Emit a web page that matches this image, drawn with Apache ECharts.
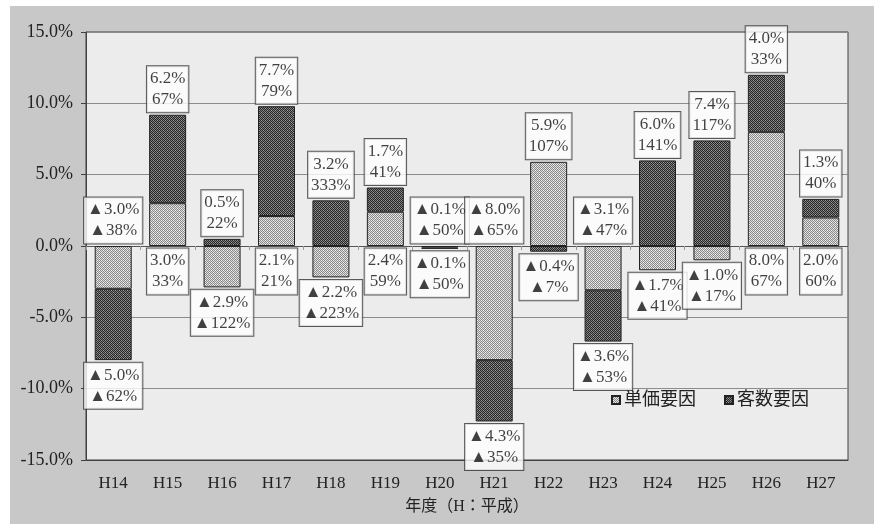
<!DOCTYPE html>
<html>
<head>
<meta charset="utf-8">
<script src="https://cdn.jsdelivr.net/npm/echarts@6/dist/echarts.min.js"></script>
<style>
  html, body { margin: 0; padding: 0; background: #ffffff; }
  #bg { position: absolute; left: 10px; top: 6px; width: 864px; height: 518px; background: #c8c8c8; }
  #chart { position: absolute; left: 0; top: 0; width: 874px; height: 524px; }
</style>
</head>
<body>
<div id="bg"></div>
<div id="chart"></div>
<script>
// ---- data ----
const categories = ['H14','H15','H16','H17','H18','H19','H20','H21','H22','H23','H24','H25','H26','H27'];
const unitFactor     = [-3.0, 3.0, -2.9, 2.1, -2.2, 2.4, -0.1, -8.0, 5.9, -3.1, -1.7, -1.0, 8.0, 2.0];
const customerFactor = [-5.0, 6.2,  0.5, 7.7,  3.2, 1.7, -0.1, -4.3, -0.4, -3.6, 6.0, 7.4, 4.0, 1.3];
const unitShare      = [-38, 33, -122, 21, -223, 59, -50, -65, 107, -47, -41, -17, 67, 60];
const customerShare  = [-62, 67,   22, 79,  333, 41, -50, -35,  -7, -53, 141, 117, 33, 40];
const seriesNames = ['単価要因', '客数要因'];
const axisTitle = '年度（H：平成）';
const yMin = -15, yMax = 15, yStep = 5;

// ---- helpers ----
function makePattern(base, dot, extra) {
  const c = document.createElement('canvas');
  c.width = 4; c.height = 4;
  const g = c.getContext('2d');
  g.fillStyle = base; g.fillRect(0, 0, 4, 4);
  g.fillStyle = dot;
  for (let y = 0; y < 4; y++) for (let x = 0; x < 4; x++) {
    if ((x + y) % 2 === 0) g.fillRect(x, y, 1, 1);
  }
  g.fillStyle = extra;
  g.fillRect(1, 0, 1, 1); g.fillRect(3, 2, 1, 1);
  return { image: c, repeat: 'repeat' };
}
const lightPat = makePattern('#dcdcdc', '#8a8a8a', '#f4f4f4');
const darkPat  = makePattern('#7c7c7c', '#262626', '#a0a0a0');

const fmtVal = v => (v < 0 ? '▲' : '') + Math.abs(v).toFixed(1) + '%';
const fmtShare = s => (s < 0 ? '▲' : '') + Math.abs(s) + '%';

const upperData = [], lowerData = [], upperText = [], lowerText = [];
categories.forEach((cat, i) => {
  const u = unitFactor[i], c = customerFactor[i];
  const pos = (u > 0 ? u : 0) + (c > 0 ? c : 0);
  const neg = (u < 0 ? u : 0) + (c < 0 ? c : 0);
  const unitTxt = fmtVal(u) + '\n' + fmtShare(unitShare[i]);
  const custTxt = fmtVal(c) + '\n' + fmtShare(customerShare[i]);
  const upperIsCustomer = c > 0;
  upperText.push(upperIsCustomer ? custTxt : unitTxt);
  lowerText.push(upperIsCustomer ? unitTxt : custTxt);
  upperData.push([cat, pos]);
  lowerData.push([cat, neg]);
});

const FONT = '"Liberation Serif", "Noto Sans CJK JP", serif';
const boxLabel = {
  show: true,
  distance: 2,
  fontFamily: FONT,
  fontSize: 17,
  lineHeight: 21,
  color: '#111',
  backgroundColor: '#ffffff',
  borderColor: '#333',
  borderWidth: 1,
  padding: [2, 3, 2, 3],
  align: 'center'
};

const chart = echarts.init(document.getElementById('chart'), null, { renderer: 'canvas' });
chart.setOption({
  animation: false,
  grid: {
    left: 86, top: 32, right: 26, bottom: 64,
    show: true, backgroundColor: '#ececec', borderColor: '#404040', borderWidth: 1
  },
  legend: {
    data: seriesNames,
    left: 606, top: 386,
    itemWidth: 8, itemHeight: 8, itemGap: 28,
    icon: 'rect',
    textStyle: { fontFamily: FONT, fontSize: 18, color: '#222', padding: [0, 0, 0, -1] }
  },
  xAxis: [{
    type: 'category', data: categories, position: 'bottom',
    axisLine: { onZero: false, lineStyle: { color: '#404040' } },
    axisTick: { show: false },
    axisLabel: { fontFamily: FONT, fontSize: 17, color: '#222', margin: 15 },
    name: axisTitle, nameLocation: 'middle', nameGap: 39,
    nameTextStyle: { fontFamily: FONT, fontSize: 16, color: '#222' }
  }, {
    type: 'category', data: categories, position: 'bottom',
    axisLine: { onZero: true, lineStyle: { color: '#555' } },
    axisTick: { show: true, length: 4, lineStyle: { color: '#999' } },
    axisLabel: { show: false }
  }],
  yAxis: {
    type: 'value', min: yMin, max: yMax, interval: yStep,
    axisLine: { show: true, lineStyle: { color: '#404040' } },
    axisTick: { show: true, length: 5, lineStyle: { color: '#404040' } },
    splitLine: { lineStyle: { color: '#8c8c8c' } },
    axisLabel: {
      fontFamily: FONT, fontSize: 18, color: '#222', margin: 13,
      formatter: v => v.toFixed(1) + '%'
    }
  },
  series: [{
    name: seriesNames[0], type: 'bar', stack: 'total', barWidth: 37,
    data: unitFactor,
    itemStyle: { color: lightPat, borderColor: '#222', borderWidth: 1 }
  }, {
    name: seriesNames[1], type: 'bar', stack: 'total', barWidth: 37,
    data: customerFactor,
    itemStyle: { color: darkPat, borderColor: '#222', borderWidth: 1 }
  }, {
    name: 'upperLabel', type: 'scatter', z: 5, silent: true,
    symbolSize: 1, itemStyle: { color: 'rgba(0,0,0,0)' },
    data: upperData,
    label: Object.assign({}, boxLabel, { position: 'top', formatter: p => upperText[p.dataIndex] })
  }, {
    name: 'lowerLabel', type: 'scatter', z: 5, silent: true,
    symbolSize: 1, itemStyle: { color: 'rgba(0,0,0,0)' },
    data: lowerData,
    label: Object.assign({}, boxLabel, { position: 'bottom', formatter: p => lowerText[p.dataIndex] })
  }]
});
</script>
</body>
</html>
